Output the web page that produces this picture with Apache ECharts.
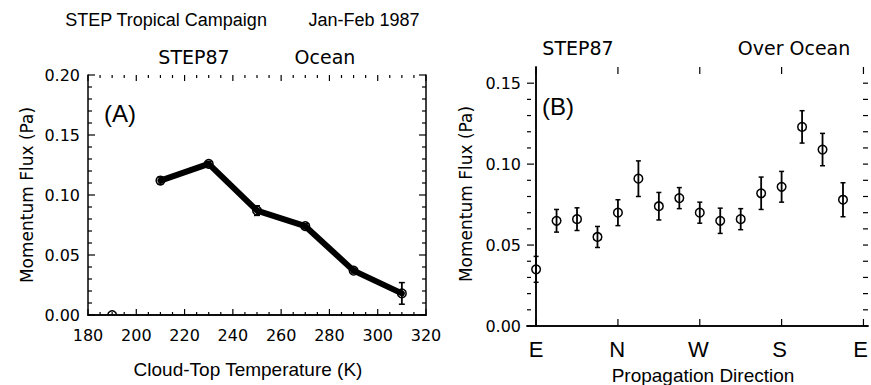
<!DOCTYPE html>
<html><head><meta charset="utf-8">
<script src="https://cdn.jsdelivr.net/npm/echarts@6/dist/echarts.min.js"></script>
<style>html,body{margin:0;padding:0;background:#fff}#c{width:871px;height:385px}</style>
</head><body><div id="c"></div>
<script>
// Panel A: momentum flux vs cloud-top temperature
const tempK = [190, 210, 230, 250, 270, 290, 310];
const fluxA = [0.000, 0.112, 0.126, 0.087, 0.074, 0.037, 0.018];
const errA  = [0.000, 0.003, 0.002, 0.004, 0.002, 0.002, 0.009];
const xTicksA = [180, 200, 220, 240, 260, 280, 300, 320];
const yTicksA = [0.00, 0.05, 0.10, 0.15, 0.20];

// Panel B: momentum flux vs propagation direction (degrees from East)
const dirDeg = [0, 22.5, 45, 67.5, 90, 112.5, 135, 157.5, 180, 202.5, 225, 247.5, 270, 292.5, 315, 337.5];
const fluxB  = [0.035, 0.065, 0.066, 0.055, 0.070, 0.091, 0.074, 0.079, 0.070, 0.065, 0.066, 0.082, 0.086, 0.123, 0.109, 0.078];
const errB   = [0.008, 0.007, 0.007, 0.0065, 0.008, 0.011, 0.0085, 0.0065, 0.0065, 0.0078, 0.0065, 0.010, 0.0095, 0.010, 0.010, 0.0105];
const dirTicks  = [0, 90, 180, 270, 360];
const dirLabels = ['E', 'N', 'W', 'S', 'E'];
const yTicksB = [0.00, 0.05, 0.10, 0.15];

const HF = 'DejaVu Sans';
const SF = 'Liberation Sans';
const BLACK = '#000';

function errRender(capHalf, r) {
  return function (params, api) {
    const x = api.value(0), y = api.value(1), e = api.value(2);
    const c = api.coord([x, y]);
    const children = [];
    if (e > 0) {
      const t = api.coord([x, y + e]);
      const b = api.coord([x, y - e]);
      children.push({type: 'line', shape: {x1: c[0], y1: t[1], x2: c[0], y2: b[1]}, style: {stroke: BLACK, lineWidth: 1.8}});
      children.push({type: 'line', shape: {x1: c[0] - capHalf, y1: t[1], x2: c[0] + capHalf, y2: t[1]}, style: {stroke: BLACK, lineWidth: 1.5}});
      children.push({type: 'line', shape: {x1: c[0] - capHalf, y1: b[1], x2: c[0] + capHalf, y2: b[1]}, style: {stroke: BLACK, lineWidth: 1.5}});
    }
    children.push({type: 'circle', shape: {cx: c[0], cy: c[1], r: r}, style: {fill: 'none', stroke: BLACK, lineWidth: 1.5}});
    return {type: 'group', children: children};
  };
}

// Inward tick marks placed through the library's scales (kind: 0 bottom, 1 top, 2 left, 3 right)
function tickItems(majors, minorStep, kinds, majLen, minLen) {
  const items = [];
  kinds.forEach(k => majors.forEach(v => items.push([v, k, majLen])));
  if (minorStep) {
    for (let i = 0; i < majors.length - 1; i++) {
      const n = Math.round((majors[i + 1] - majors[i]) / minorStep);
      for (let j = 1; j < n; j++) kinds.forEach(k => items.push([majors[i] + j * minorStep, k, minLen]));
    }
  }
  return items;
}
function tickRender(ext) {
  return function (params, api) {
    const v = api.value(0), k = api.value(1), L = api.value(2);
    let p, q;
    if (k === 0) { p = api.coord([v, ext.y0]); q = [p[0], p[1] - L]; }
    else if (k === 1) { p = api.coord([v, ext.y1]); q = [p[0], p[1] + L]; }
    else if (k === 2) { p = api.coord([ext.x0, v]); q = [p[0] + L, p[1]]; }
    else { p = api.coord([ext.x1, v]); q = [p[0] - L, p[1]]; }
    return {type: 'line', shape: {x1: p[0], y1: p[1], x2: q[0], y2: q[1]}, style: {stroke: BLACK, lineWidth: 1.2}};
  };
}

function axLine() { return {show: true, lineStyle: {color: BLACK, width: 1.5}}; }
function isMult(v, step) { const q = v / step; return Math.abs(q - Math.round(q)) < 1e-6; }

// Panel geometry
const aRect = {left: 88, top: 75, width: 338, height: 240};
const bLeft = 527, bWidth = 341, bMin = -10, bMax = 365;
const bRect = {left: bLeft, top: 67, width: bWidth, height: 259};
const pxDeg = bWidth / (bMax - bMin);
const extA = {x0: 180, x1: 320, y0: 0, y1: 0.2};
const extB = {x0: bMin, x1: bMax, y0: 0, y1: 0.16};

const ticksA = tickItems(xTicksA, 5, [0, 1], 6, 3).concat(tickItems(yTicksA, 0.01, [2, 3], 7, 4));
const ticksB = tickItems(dirTicks, 0, [0, 1], 7, 0)
  .concat(tickItems(yTicksB, 0.01, [2], 7, 4))
  .concat(tickItems(yTicksB, 0.01, [3], 5, 5));

const chart = echarts.init(document.getElementById('c'), null, {renderer: 'svg'});
chart.setOption({
  animation: false,
  grid: [
    Object.assign({}, aRect),
    Object.assign({}, bRect),
    {left: bLeft + (0 - bMin) * pxDeg, top: 67, width: 360 * pxDeg, height: 259},
    Object.assign({}, aRect),
    Object.assign({}, bRect)
  ],
  xAxis: [
    {gridIndex: 0, type: 'value', position: 'bottom', min: 180, max: 320, interval: 20,
      axisLine: axLine(), splitLine: {show: false}, axisTick: {show: false},
      axisLabel: {show: true, color: BLACK, fontFamily: HF, fontSize: 16, margin: 12, formatter: v => String(v)}},
    {gridIndex: 0, type: 'value', position: 'top', min: 180, max: 320, interval: 20,
      axisLine: axLine(), splitLine: {show: false}, axisTick: {show: false}, axisLabel: {show: false}},
    {gridIndex: 1, type: 'value', position: 'bottom', min: bMin, max: bMax,
      axisLine: axLine(), splitLine: {show: false}, axisTick: {show: false}, axisLabel: {show: false}},
    {gridIndex: 1, type: 'value', position: 'top', min: bMin, max: bMax,
      axisLine: axLine(), splitLine: {show: false}, axisTick: {show: false}, axisLabel: {show: false}},
    {gridIndex: 2, type: 'value', position: 'bottom', min: 0, max: 360, interval: 90,
      axisLine: {show: false}, splitLine: {show: false}, axisTick: {show: false},
      axisLabel: {show: true, color: BLACK, fontFamily: SF, fontSize: 22, margin: 12,
        formatter: v => dirLabels[Math.round(v / 90)] || ''}},
    {gridIndex: 3, type: 'value', show: false, min: extA.x0, max: extA.x1},
    {gridIndex: 4, type: 'value', show: false, min: extB.x0, max: extB.x1}
  ],
  yAxis: [
    {gridIndex: 0, type: 'value', position: 'left', min: 0, max: 0.2, interval: 0.05,
      axisLine: axLine(), splitLine: {show: false}, axisTick: {show: false},
      axisLabel: {show: true, color: BLACK, fontFamily: HF, fontSize: 16, margin: 8, formatter: v => v.toFixed(2)}},
    {gridIndex: 0, type: 'value', position: 'right', min: 0, max: 0.2, interval: 0.05,
      axisLine: axLine(), splitLine: {show: false}, axisTick: {show: false}, axisLabel: {show: false}},
    {gridIndex: 1, type: 'value', position: 'left', min: 0, max: 0.16, interval: 0.05,
      axisLine: axLine(), splitLine: {show: false}, axisTick: {show: false},
      axisLabel: {show: true, color: BLACK, fontFamily: HF, fontSize: 16, margin: 6, showMaxLabel: false,
        formatter: v => isMult(v, 0.05) ? v.toFixed(2) : ''}},
    {gridIndex: 1, type: 'value', position: 'right', min: 0, max: 0.16, interval: 0.01,
      axisLine: axLine(), splitLine: {show: false}, axisTick: {show: false}, axisLabel: {show: false}},
    {gridIndex: 2, type: 'value', show: false, min: 0, max: 1},
    {gridIndex: 3, type: 'value', show: false, min: extA.y0, max: extA.y1},
    {gridIndex: 4, type: 'value', show: false, min: extB.y0, max: extB.y1}
  ],
  series: [
    {type: 'custom', xAxisIndex: 5, yAxisIndex: 5, clip: false, silent: true, renderItem: tickRender(extA), data: ticksA},
    {type: 'custom', xAxisIndex: 6, yAxisIndex: 6, clip: false, silent: true, renderItem: tickRender(extB), data: ticksB},
    {type: 'custom', xAxisIndex: 5, yAxisIndex: 5, clip: true, renderItem: errRender(3, 4.3),
      encode: {x: 0, y: 1}, data: tempK.map((t, i) => [t, fluxA[i], errA[i]])},
    {type: 'line', xAxisIndex: 5, yAxisIndex: 5, symbol: 'none', silent: true,
      lineStyle: {color: BLACK, width: 6, join: 'round', cap: 'round'},
      data: tempK.map((t, i) => [t, fluxA[i]]).filter(d => d[1] > 0)},
    {type: 'custom', xAxisIndex: 6, yAxisIndex: 6, clip: false, renderItem: errRender(2.5, 4.3),
      encode: {x: 0, y: 1}, data: dirDeg.map((d, i) => [d, fluxB[i], errB[i]])}
  ],
  graphic: [
    {type: 'text', x: 166, y: 20, style: {text: 'STEP Tropical Campaign', font: '18px "Liberation Sans"', fill: BLACK, textAlign: 'center', textVerticalAlign: 'middle'}},
    {type: 'text', x: 364, y: 20, style: {text: 'Jan-Feb 1987', font: '18px "Liberation Sans"', fill: BLACK, textAlign: 'center', textVerticalAlign: 'middle'}},
    {type: 'text', x: 194, y: 57, style: {text: 'STEP87', font: '19px "DejaVu Sans"', fill: BLACK, textAlign: 'center', textVerticalAlign: 'middle'}},
    {type: 'text', x: 325, y: 57, style: {text: 'Ocean', font: '19px "DejaVu Sans"', fill: BLACK, textAlign: 'center', textVerticalAlign: 'middle'}},
    {type: 'text', x: 578, y: 48, style: {text: 'STEP87', font: '19px "DejaVu Sans"', fill: BLACK, textAlign: 'center', textVerticalAlign: 'middle'}},
    {type: 'text', x: 794, y: 48, style: {text: 'Over Ocean', font: '19px "DejaVu Sans"', fill: BLACK, textAlign: 'center', textVerticalAlign: 'middle'}},
    {type: 'text', x: 120, y: 113, style: {text: '(A)', font: '24px "Liberation Sans"', fill: BLACK, textAlign: 'center', textVerticalAlign: 'middle'}},
    {type: 'text', x: 558, y: 106, style: {text: '(B)', font: '24px "Liberation Sans"', fill: BLACK, textAlign: 'center', textVerticalAlign: 'middle'}},
    {type: 'text', x: 27, y: 195, rotation: Math.PI / 2, style: {text: 'Momentum Flux (Pa)', font: '17px "DejaVu Sans"', fill: BLACK, textAlign: 'center', textVerticalAlign: 'middle'}},
    {type: 'text', x: 466, y: 194, rotation: Math.PI / 2, style: {text: 'Momentum Flux (Pa)', font: '17px "DejaVu Sans"', fill: BLACK, textAlign: 'center', textVerticalAlign: 'middle'}},
    {type: 'text', x: 248, y: 369, style: {text: 'Cloud-Top Temperature (K)', font: '19px "Liberation Sans"', fill: BLACK, textAlign: 'center', textVerticalAlign: 'middle'}},
    {type: 'text', x: 703, y: 375, style: {text: 'Propagation Direction', font: '19px "Liberation Sans"', fill: BLACK, textAlign: 'center', textVerticalAlign: 'middle'}}
  ]
});
</script>
</body></html>
